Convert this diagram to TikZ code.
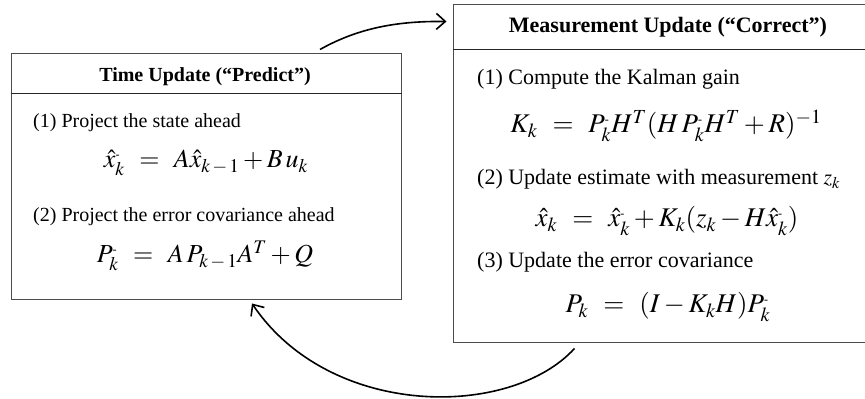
\documentclass[tikz,border=0pt]{standalone}
\usepackage{mathptmx}
\usepackage[no-math]{fontspec}
\setmainfont{Liberation Serif}
\usetikzlibrary{arrows.meta,calc}
\newcommand{\mnus}{^{\mbox{\fontsize{12}{12}\selectfont -}}}
\newcommand{\eqq}{\;\,=\;\,}
\tikzset{
  box/.style={draw=black!70, line width=1pt, inner sep=0pt, fill=white},
  sep/.style={draw=black!85, line width=1.4pt},
  ltxt/.style={anchor=base west, inner sep=0pt, font=\fontsize{20}{24}\selectfont},
  leq/.style={anchor=base, inner sep=0pt, font=\fontsize{26}{30}\selectfont},
  rtxt/.style={anchor=base west, inner sep=0pt, font=\fontsize{22}{26}\selectfont},
  req/.style={anchor=base, inner sep=0pt, font=\fontsize{27}{31}\selectfont},
  flow/.style={draw=black, line width=1.6pt, -{Straight Barb[length=9pt,width=16pt,line width=1.6pt]}}
}
\begin{document}
\begin{tikzpicture}[x=1pt,y=1pt]
\useasboundingbox (0,0) rectangle (865,399);
% boxes
\node[box, minimum width=390pt, minimum height=246pt] (L) at (206,222) {};
\node[box, minimum width=413pt, minimum height=338pt] (R) at (659.5,225) {};
\draw[sep] ($(L.north west)+(0,-40)$) coordinate (ls1) -- ($(L.north east)+(0,-40)$) coordinate (ls2);
\draw[sep] ($(R.north west)+(0,-45)$) coordinate (rs1) -- ($(R.north east)+(0,-45)$) coordinate (rs2);
% left content
\node[anchor=base, inner sep=0pt, font=\bfseries\fontsize{20}{24}\selectfont] (lh) at (205,317) {Time Update (“Predict”)};
\node[ltxt] (l1) at (33,271) {(1) Project the state ahead};
\node[leq] (le1) at (206,231) {$\hat{x}_k\mnus \eqq A\hat{x}_{k\,-\,1} + B\,u_k$};
\node[ltxt] (l2) at (33,177) {(2) Project the error covariance ahead};
\node[leq] (le2) at (205,136) {$P_k\mnus \eqq A\,P_{k\,-\,1}A^T + Q$};
% right content
\node[anchor=base, inner sep=0pt, font=\bfseries\fontsize{22}{26}\selectfont] (rh) at (668,366) {Measurement Update (“Correct”)};
\node[rtxt] (r1) at (477,314) {(1) Compute the Kalman gain};
\node[req] (re1) at (666,266) {$K_k \eqq P_k\mnus H^T(H\,P_k\mnus H^T+R)^{-1}$};
\node[rtxt] (r2) at (477,214) {(2) Update estimate with measurement $z_k$};
\node[req] (re2) at (667,172) {$\hat{x}_k \eqq \hat{x}_k\mnus + K_k(z_k - H\hat{x}_k\mnus)$};
\node[rtxt] (r3) at (477,131) {(3) Update the error covariance};
\node[req] (re3) at (668,86) {$P_k \eqq (I-K_kH)P_k\mnus$};
% flow arrows
\coordinate (a1s) at ($(L.north)+(114,4)$);
\coordinate (a1e) at ($(R.north west)+(-6,-17)$);
\draw[flow] (a1s) .. controls (360,372) and (400,378) .. (a1e);
\coordinate (a2s) at ($(R.south west)+(122,-5)$);
\coordinate (a2e) at ($(L.south)+(46,-3)$);
\draw[flow] (a2s) .. controls (510,-20) and (330,-20) .. (a2e);
\end{tikzpicture}
\end{document}
